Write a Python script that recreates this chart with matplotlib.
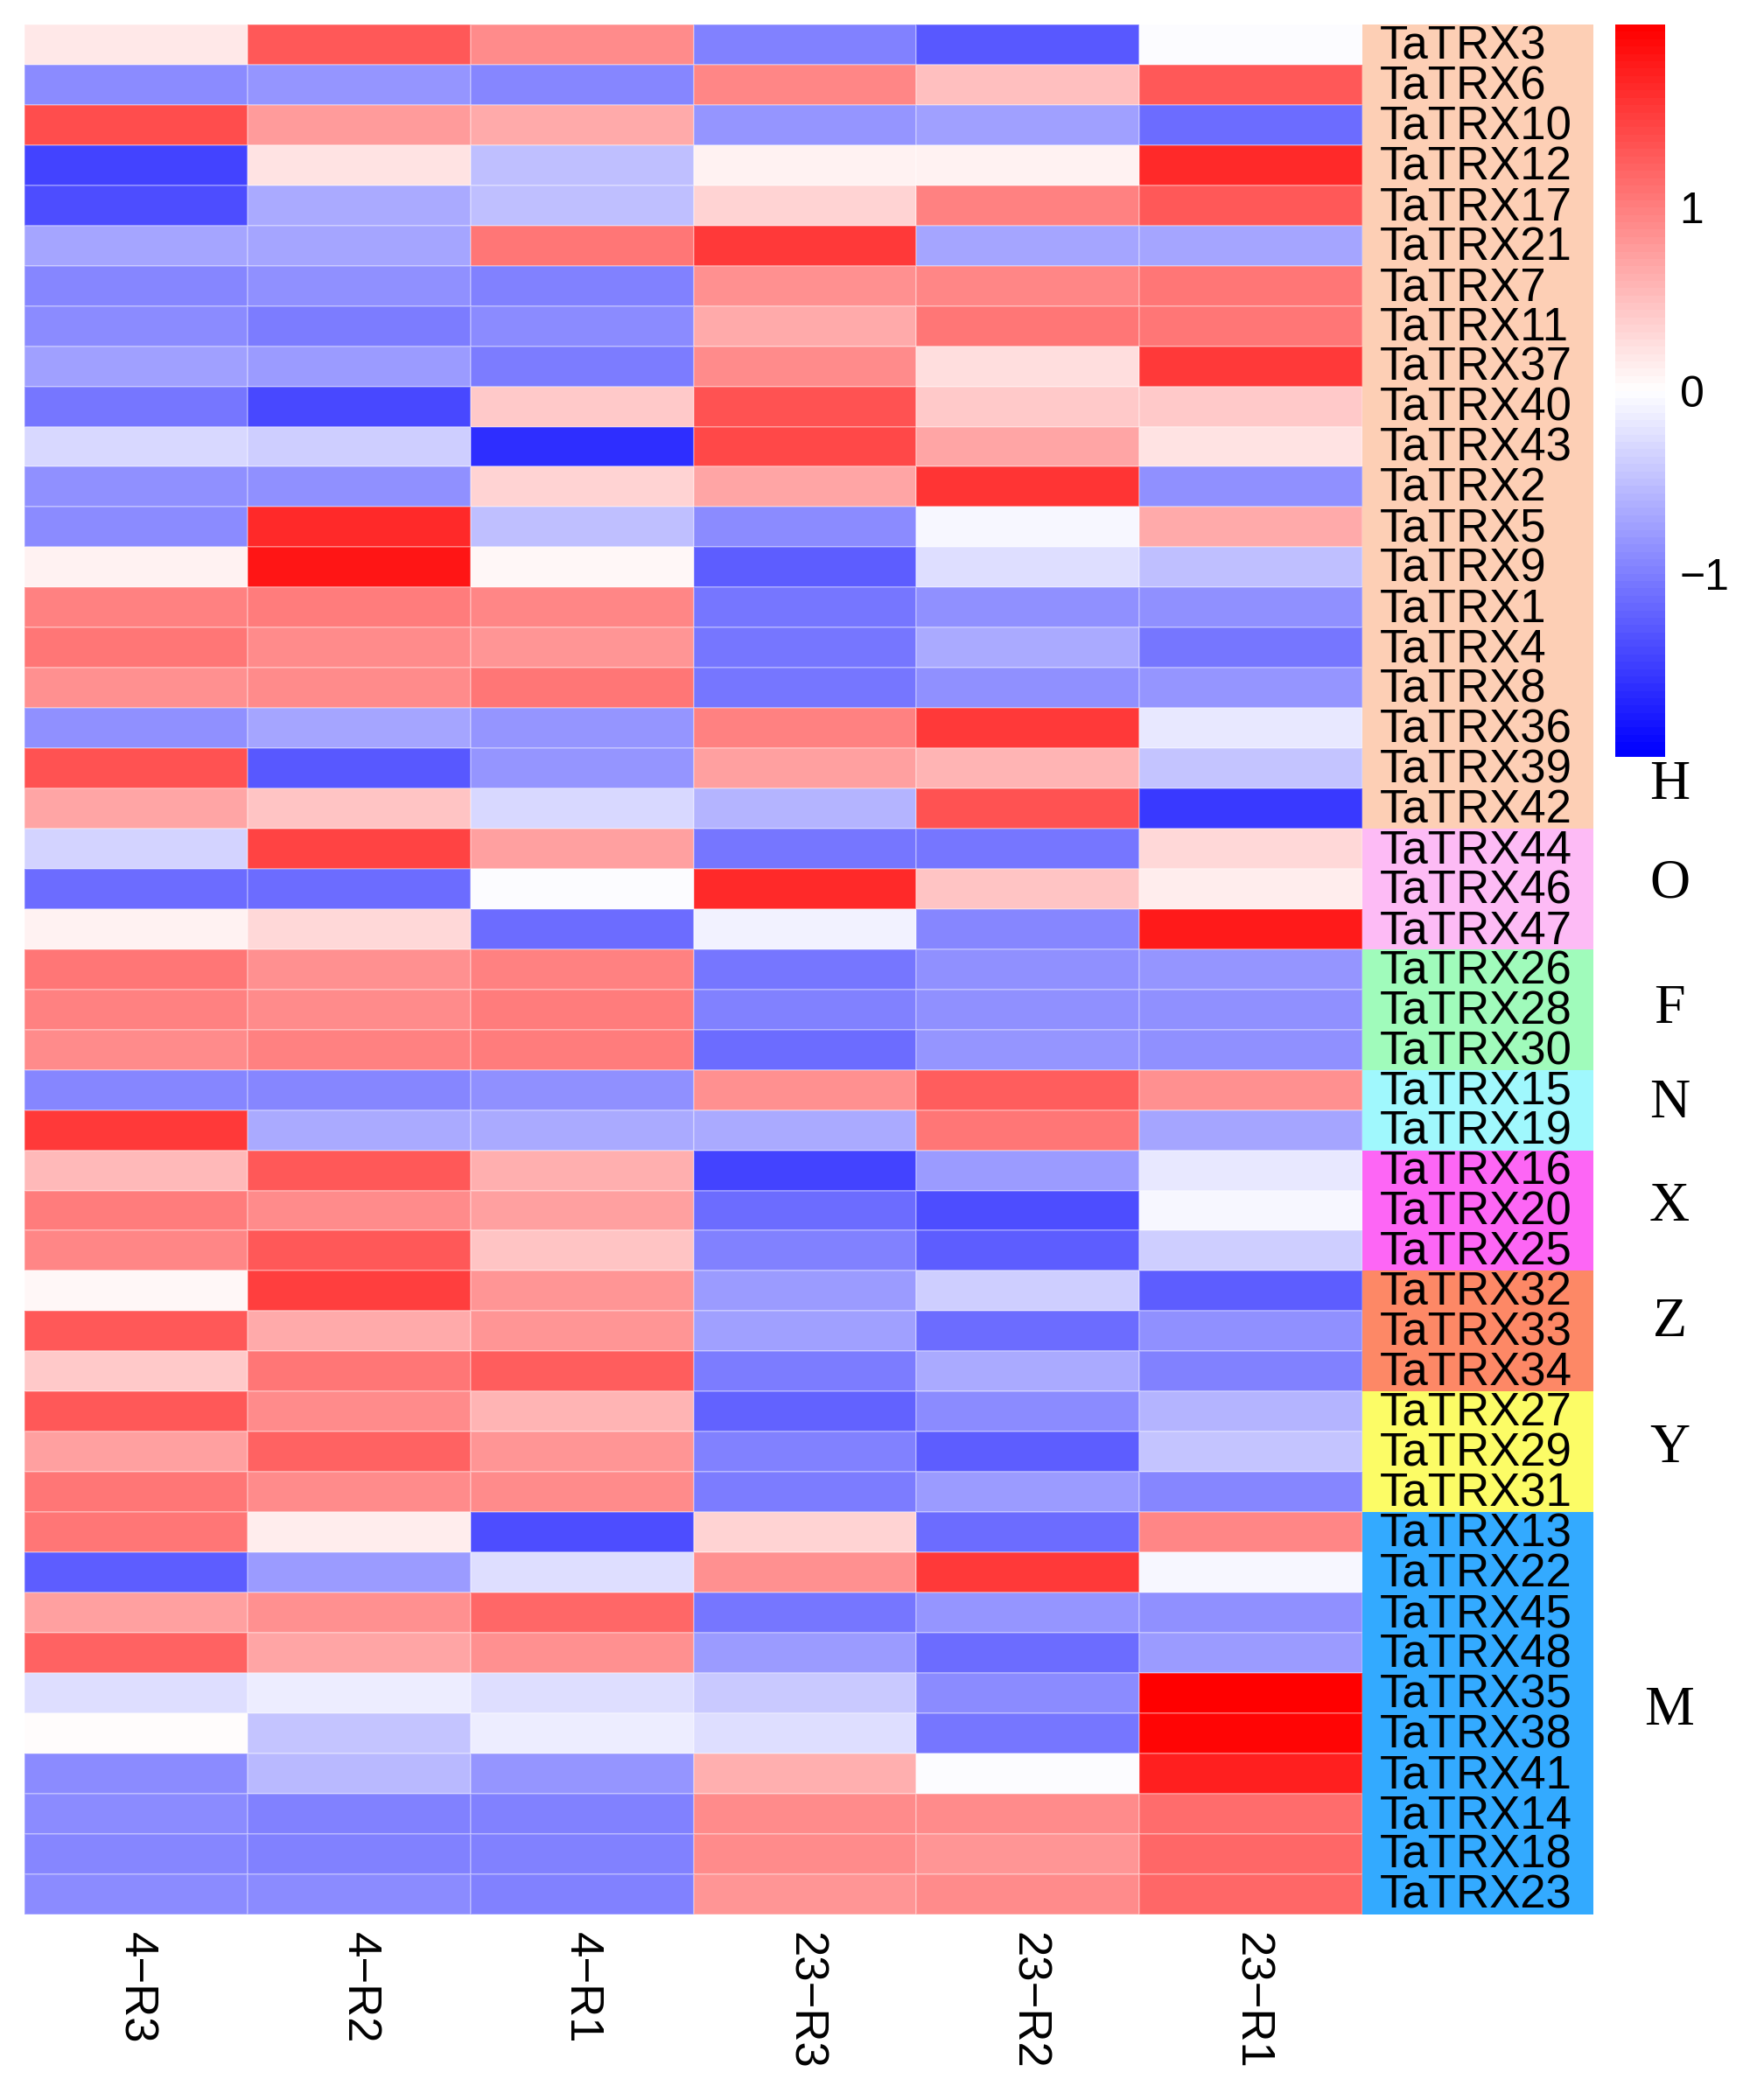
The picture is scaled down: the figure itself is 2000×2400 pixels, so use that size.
import numpy as np
import matplotlib.pyplot as plt
from matplotlib.colors import LinearSegmentedColormap

plt.rcParams['font.family'] = ['Liberation Sans', 'DejaVu Sans']

# column (sample) labels, left to right
samples = ['4\u2212R3', '4\u2212R2', '4\u2212R1', '23\u2212R3', '23\u2212R2', '23\u2212R1']

# genes, top to bottom
genes = ['TaTRX3', 'TaTRX6', 'TaTRX10', 'TaTRX12', 'TaTRX17', 'TaTRX21', 'TaTRX7',
         'TaTRX11', 'TaTRX37', 'TaTRX40', 'TaTRX43', 'TaTRX2', 'TaTRX5', 'TaTRX9',
         'TaTRX1', 'TaTRX4', 'TaTRX8', 'TaTRX36', 'TaTRX39', 'TaTRX42',
         'TaTRX44', 'TaTRX46', 'TaTRX47',
         'TaTRX26', 'TaTRX28', 'TaTRX30',
         'TaTRX15', 'TaTRX19',
         'TaTRX16', 'TaTRX20', 'TaTRX25',
         'TaTRX32', 'TaTRX33', 'TaTRX34',
         'TaTRX27', 'TaTRX29', 'TaTRX31',
         'TaTRX13', 'TaTRX22', 'TaTRX45', 'TaTRX48', 'TaTRX35', 'TaTRX38', 'TaTRX41',
         'TaTRX14', 'TaTRX18', 'TaTRX23']

# subfamily of each gene and its count
group_names = ['H', 'O', 'F', 'N', 'X', 'Z', 'Y', 'M']
group_sizes = [20, 3, 3, 2, 3, 3, 3, 10]
group_colors = ['#FDCFB5', '#FDBBF5', '#A0FBBB', '#A0F8FD', '#FD66F5', '#FD8866', '#FCFC66', '#33AAFF']

# row-scaled expression (z-score), one row per gene
zscore = [
    [0.16, 1.29, 0.88, -1.00, -1.29, -0.04],
    [-0.92, -0.82, -0.96, 0.93, 0.48, 1.29],
    [1.37, 0.76, 0.64, -0.84, -0.75, -1.14],
    [-1.47, 0.20, -0.49, 0.08, 0.08, 1.67],
    [-1.37, -0.67, -0.49, 0.35, 0.96, 1.29],
    [-0.68, -0.68, 1.07, 1.55, -0.68, -0.68],
    [-0.96, -0.87, -1.00, 0.87, 0.93, 1.07],
    [-0.90, -1.03, -0.90, 0.66, 1.07, 1.07],
    [-0.76, -0.80, -1.03, 0.88, 0.24, 1.53],
    [-1.07, -1.43, 0.40, 1.32, 0.40, 0.40],
    [-0.32, -0.39, -1.60, 1.42, 0.68, 0.20],
    [-0.87, -0.87, 0.35, 0.68, 1.58, -0.87],
    [-0.90, 1.65, -0.49, -0.90, -0.07, 0.67],
    [0.08, 1.81, 0.06, -1.25, -0.27, -0.49],
    [0.96, 1.00, 0.92, -1.06, -0.87, -0.87],
    [1.06, 0.88, 0.82, -1.06, -0.67, -1.06],
    [0.84, 0.88, 1.06, -1.06, -0.87, -0.84],
    [-0.87, -0.71, -0.84, 0.98, 1.55, -0.20],
    [1.32, -1.29, -0.84, 0.75, 0.58, -0.45],
    [0.68, 0.45, -0.30, -0.58, 1.32, -1.55],
    [-0.35, 1.47, 0.75, -1.06, -1.06, 0.30],
    [-1.14, -1.14, -0.04, 1.65, 0.46, 0.14],
    [0.09, 0.30, -1.12, -0.12, -0.96, 1.76],
    [1.04, 0.84, 0.96, -1.06, -0.87, -0.84],
    [0.98, 0.88, 1.00, -1.00, -0.88, -0.87],
    [0.90, 0.98, 1.00, -1.12, -0.84, -0.87],
    [-0.96, -0.96, -0.87, 0.84, 1.25, 0.84],
    [1.55, -0.67, -0.67, -0.67, 1.07, -0.68],
    [0.54, 1.29, 0.62, -1.47, -0.78, -0.20],
    [1.00, 0.88, 0.73, -1.16, -1.37, -0.08],
    [0.93, 1.29, 0.45, -1.00, -1.26, -0.38],
    [0.07, 1.51, 0.82, -0.78, -0.38, -1.25],
    [1.29, 0.67, 0.81, -0.76, -1.12, -0.87],
    [0.43, 1.06, 1.25, -1.03, -0.67, -1.00],
    [1.28, 0.88, 0.58, -1.21, -0.90, -0.58],
    [0.75, 1.20, 0.81, -1.00, -1.25, -0.45],
    [1.04, 0.88, 0.90, -1.03, -0.78, -0.96],
    [1.06, 0.14, -1.37, 0.35, -1.12, 0.93],
    [-1.25, -0.78, -0.27, 0.87, 1.55, -0.08],
    [0.75, 0.87, 1.18, -1.06, -0.84, -0.87],
    [1.22, 0.68, 0.84, -0.78, -1.12, -0.78],
    [-0.27, -0.16, -0.27, -0.43, -0.90, 2.00],
    [0.03, -0.46, -0.16, -0.27, -1.06, 1.94],
    [-0.90, -0.56, -0.84, 0.62, -0.04, 1.75],
    [-0.90, -1.00, -1.00, 0.90, 0.88, 1.12],
    [-0.96, -1.00, -0.98, 0.90, 0.82, 1.18],
    [-0.90, -0.90, -1.00, 0.81, 0.88, 1.17],
]

# where the subfamily letters sit (figure fraction)
group_label_y = [0.626, 0.579, 0.519, 0.474, 0.425, 0.370, 0.310, 0.185]

data = np.array(zscore)
n_rows, n_cols = data.shape
lim = 2.0

cmap = LinearSegmentedColormap.from_list('bwr_ph', ['#0000FF', '#FFFFFF', '#FF0000'], N=100)

fig = plt.figure(figsize=(10, 12), dpi=200)

# heatmap
ax = fig.add_axes([0.014, 0.0885, 0.7645, 0.8998])
mesh = ax.pcolormesh(np.arange(n_cols + 1), np.arange(n_rows + 1), data,
                     cmap=cmap, vmin=-lim, vmax=lim,
                     edgecolors=(1, 1, 1, 0.25), linewidth=0.6)
ax.set_xlim(0, n_cols)
ax.set_ylim(n_rows, 0)
ax.set_xticks([])
ax.set_yticks([])
for s in ax.spines.values():
    s.set_visible(False)

# column labels under the heatmap
for j, name in enumerate(samples):
    ax.text(j + 0.5, n_rows + 0.45, name, rotation=270, ha='center', va='top',
            fontsize=19)

# gene label strip coloured by subfamily
sax = fig.add_axes([0.7785, 0.0885, 0.132, 0.8998])
row_colors = []
for g, size in enumerate(group_sizes):
    row_colors += [group_colors[g]] * size
sax.barh(np.arange(n_rows) + 0.5, 1, height=1.0, left=0, color=row_colors, linewidth=0)
for i, gene in enumerate(genes):
    sax.text(0.075, i + 0.55, gene, ha='left', va='center', fontsize=19)
sax.set_xlim(0, 1)
sax.set_ylim(n_rows, 0)
sax.axis('off')

# subfamily letters
for name, y in zip(group_names, group_label_y):
    fig.text(0.954, y, name, ha='center', va='center', fontsize=23,
             family='Liberation Serif')

# colour key
cax = fig.add_axes([0.923, 0.6396, 0.0285, 0.3487])
cb = fig.colorbar(mesh, cax=cax, ticks=[-1, 0, 1])
cb.outline.set_visible(False)
cb.ax.tick_params(length=0, labelsize=18, pad=6)

fig.savefig('out.png', dpi=200)
